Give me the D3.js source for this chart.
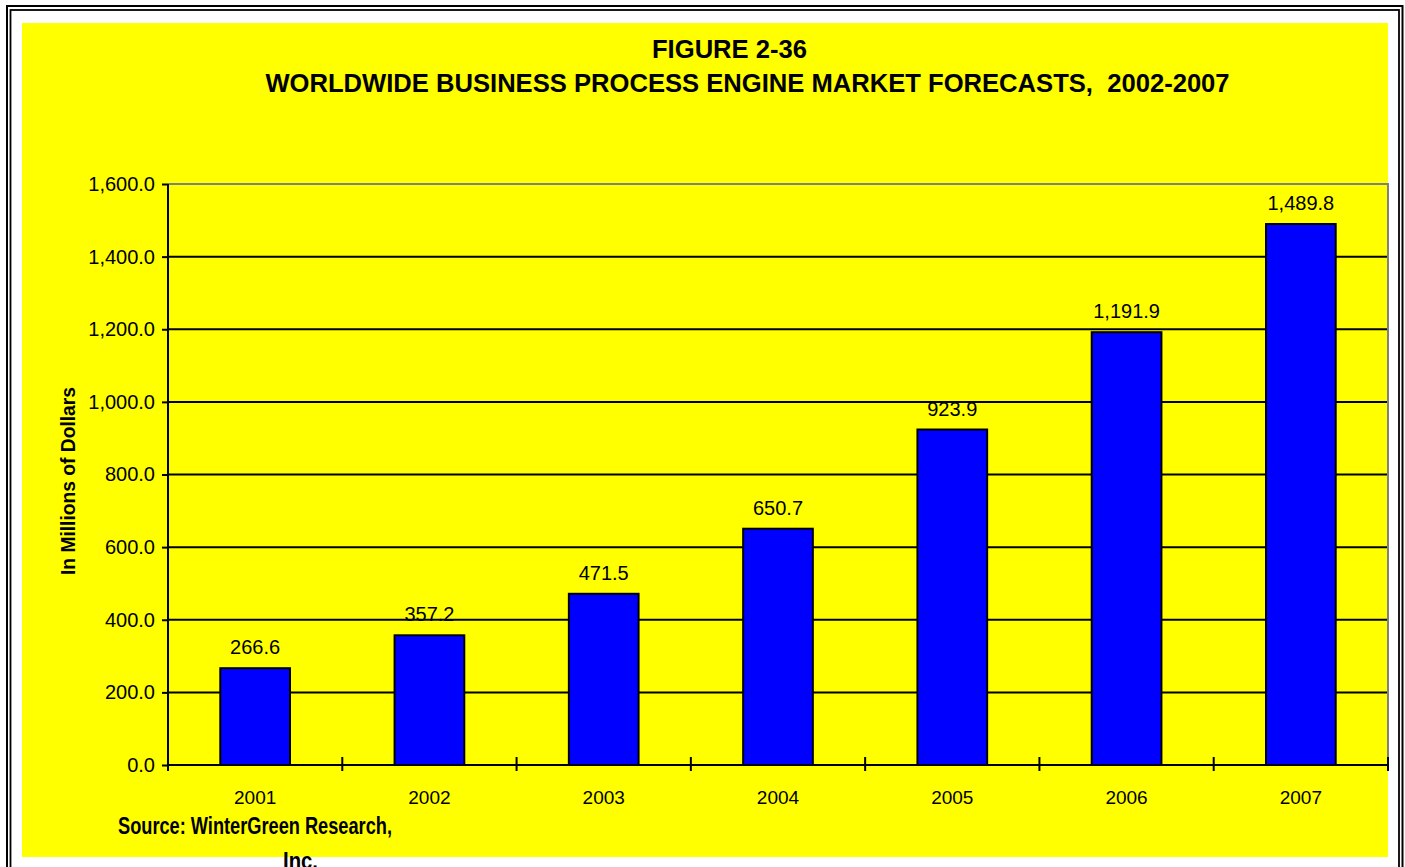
<!DOCTYPE html>
<html>
<head>
<meta charset="utf-8">
<script src="https://cdn.jsdelivr.net/npm/d3@7"></script>
<style>
  body { margin: 0; background: #fff; }
  svg text { font-family: "Liberation Sans", Arial, sans-serif; fill: #000; }
</style>
</head>
<body>
<div class="chart-container"></div>
<script>
// chart data
var years = ["2001", "2002", "2003", "2004", "2005", "2006", "2007"];
var revenue = [266.6, 357.2, 471.5, 650.7, 923.9, 1191.9, 1489.8];
var yTicks = [0, 200, 400, 600, 800, 1000, 1200, 1400, 1600];

var titleLine1 = "FIGURE 2-36";
var titleLine2 = "WORLDWIDE BUSINESS PROCESS ENGINE MARKET FORECASTS,  2002-2007";
var yLabel = "In Millions of Dollars";
var sourceLine1 = "Source: WinterGreen Research,";
var sourceLine2 = "Inc.";

var W = 1405, H = 867;
var plot = {left: 168, right: 1388, top: 184, bottom: 765};

var svg = d3.select(".chart-container").append("svg")
    .attr("width", W)
    .attr("height", H);

// double frame round the page
svg.append("rect")
    .attr("x", 7).attr("y", 6)
    .attr("width", 1395.5).attr("height", 900)
    .attr("fill", "none").attr("stroke", "#000").attr("stroke-width", 2);
svg.append("rect")
    .attr("x", 10.5).attr("y", 10)
    .attr("width", 1388.5).attr("height", 900)
    .attr("fill", "none").attr("stroke", "#000").attr("stroke-width", 1.8);

// yellow chart area
svg.append("rect")
    .attr("x", 22).attr("y", 23)
    .attr("width", plot.right - 22).attr("height", 857 - 23)
    .attr("fill", "#ffff00");

var x = d3.scaleBand()
    .domain(years)
    .range([plot.left, plot.right])
    .paddingInner(0.6)
    .paddingOuter(0.3);

var y = d3.scaleLinear()
    .domain([0, 1600])
    .range([plot.bottom, plot.top]);

// gridlines (top one is the grey plot frame)
svg.append("g")
    .selectAll("line")
    .data(yTicks.filter(function(d) { return d > 0 && d < 1600; }))
    .enter().append("line")
    .attr("x1", plot.left).attr("x2", plot.right)
    .attr("y1", function(d) { return y(d); })
    .attr("y2", function(d) { return y(d); })
    .attr("stroke", "#000").attr("stroke-width", 2);

svg.append("path")
    .attr("d", "M" + plot.left + "," + plot.top + "H" + plot.right + "V" + plot.bottom)
    .attr("fill", "none").attr("stroke", "#808080").attr("stroke-width", 2);

// bars
svg.append("g")
    .selectAll("rect")
    .data(revenue)
    .enter().append("rect")
    .attr("x", function(d, i) { return x(years[i]); })
    .attr("y", function(d) { return y(d); })
    .attr("width", x.bandwidth())
    .attr("height", function(d) { return y(0) - y(d); })
    .attr("fill", "#0000ff")
    .attr("stroke", "#000").attr("stroke-width", 2);

// value labels
svg.append("g")
    .selectAll("text")
    .data(revenue)
    .enter().append("text")
    .attr("x", function(d, i) { return x(years[i]) + x.bandwidth() / 2; })
    .attr("y", function(d) { return y(d) - 14; })
    .attr("text-anchor", "middle")
    .style("font-size", "20px")
    .text(function(d) { return d3.format(",.1f")(d); });

// y axis
var yAxis = d3.axisLeft(y)
    .tickValues(yTicks)
    .tickFormat(d3.format(",.1f"))
    .tickSize(6)
    .tickPadding(7);

var yg = svg.append("g")
    .attr("transform", "translate(" + plot.left + ",0)")
    .call(yAxis);
yg.select(".domain").attr("stroke", "#000").attr("stroke-width", 2)
    .attr("d", "M0," + plot.top + "V" + (plot.bottom + 6));
yg.selectAll(".tick line").attr("stroke", "#000").attr("stroke-width", 2);
yg.selectAll(".tick text")
    .style("font-size", "20px")
    .style("font-family", "'Liberation Sans', Arial, sans-serif");

// x axis: ticks at category boundaries, crossing the axis line
var step = x.step();
var boundaries = d3.range(years.length + 1).map(function(i) { return plot.left + i * step; });

svg.append("line")
    .attr("x1", plot.left).attr("x2", plot.right)
    .attr("y1", plot.bottom).attr("y2", plot.bottom)
    .attr("stroke", "#000").attr("stroke-width", 2.2);

svg.append("g")
    .selectAll("line")
    .data(boundaries)
    .enter().append("line")
    .attr("x1", function(d) { return d; })
    .attr("x2", function(d) { return d; })
    .attr("y1", plot.bottom - 8).attr("y2", plot.bottom + 6)
    .attr("stroke", "#000").attr("stroke-width", 2);

svg.append("g")
    .selectAll("text")
    .data(years)
    .enter().append("text")
    .attr("x", function(d) { return x(d) + x.bandwidth() / 2; })
    .attr("y", 804)
    .attr("text-anchor", "middle")
    .style("font-size", "19px")
    .text(function(d) { return d; });

// titles
svg.append("text")
    .attr("x", 729.5).attr("y", 58)
    .attr("text-anchor", "middle")
    .style("font-size", "25.6px").style("font-weight", "bold")
    .text(titleLine1);
svg.append("text")
    .attr("x", 747.5).attr("y", 91.5)
    .attr("text-anchor", "middle")
    .style("font-size", "25.6px").style("font-weight", "bold")
    .style("white-space", "pre")
    .attr("xml:space", "preserve")
    .text(titleLine2);

// y axis title
svg.append("text")
    .attr("transform", "translate(75,481) rotate(-90)")
    .attr("text-anchor", "middle")
    .style("font-size", "20px").style("font-weight", "bold")
    .attr("textLength", 188).attr("lengthAdjust", "spacingAndGlyphs")
    .text(yLabel);

// source note
svg.append("text")
    .attr("x", 118).attr("y", 834)
    .style("font-size", "24px").style("font-weight", "bold")
    .attr("textLength", 274).attr("lengthAdjust", "spacingAndGlyphs")
    .text(sourceLine1);
svg.append("text")
    .attr("x", 283).attr("y", 869)
    .style("font-size", "24px").style("font-weight", "bold")
    .attr("textLength", 35).attr("lengthAdjust", "spacingAndGlyphs")
    .text(sourceLine2);
</script>
</body>
</html>
